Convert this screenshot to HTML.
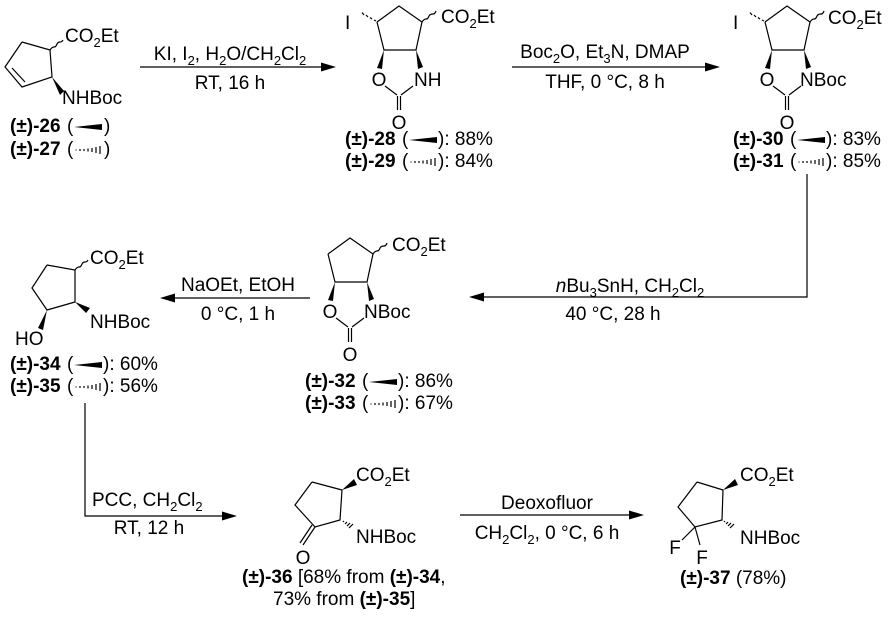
<!DOCTYPE html>
<html><head><meta charset="utf-8"><style>
html,body{margin:0;padding:0;background:#fff;}
svg{display:block;}
text{font-family:"Liberation Sans",Arial,sans-serif;font-size:19px;fill:#000;}
.b{font-weight:bold;}
.c{text-anchor:middle;}
line,polyline,path{stroke:#000;stroke-width:1.2;fill:none;}
.ar{fill:#000;stroke:none;}
</style></head><body>
<svg width="891" height="617" viewBox="0 0 891 617" xmlns="http://www.w3.org/2000/svg">
<defs>
<g id="bic">
 <polyline points="-22,16 0,0 23,16 17,44 -15,44 -22,16"/>
 <path d="M-15,44 L-22,62 L-17,63 Z" class="ar"/>
 <path d="M17,44 L19,63 L24,61 Z" class="ar"/>
 <line x1="-14" y1="80" x2="-2" y2="89"/>
 <line x1="14" y1="80" x2="2" y2="89"/>
 <line x1="-1.5" y1="90" x2="-1.5" y2="104"/>
 <line x1="1.5" y1="90" x2="1.5" y2="104"/>
 <path d="M23,16 q2,-3 4,-3 q2,0 3,-3 q1,-2 4,-2 q2,0 3,-3"/>
 <text x="-20" y="80" class="c">O</text>
 <text x="0" y="123" class="c">O</text>
</g>
<g id="hi">
 <line x1="-23" y1="15" x2="-25" y2="14"/><line x1="-27" y1="13" x2="-29" y2="11.5"/><line x1="-31" y1="11" x2="-33" y2="9"/><line x1="-35" y1="9" x2="-37" y2="6.5"/>
</g>
<g id="hl">
 <path d="M0,-5 L28,-8 L28,-2 Z" class="ar"/>
</g>
<g id="hd">
 <line x1="2" y1="-5.5" x2="2" y2="-4.5"/><line x1="6" y1="-6" x2="6" y2="-4"/><line x1="10" y1="-6" x2="10" y2="-4"/><line x1="14" y1="-6.5" x2="14" y2="-3.5"/><line x1="18" y1="-7" x2="18" y2="-3"/><line x1="22" y1="-8" x2="22" y2="-2"/><line x1="26" y1="-9" x2="26" y2="-1"/>
</g>
</defs>

<!-- 26 -->
<polyline points="22,42 50,50 52,77 22,87 5,67 22,42"/>
<line x1="12" y1="68" x2="25" y2="82"/>
<path d="M50,50 q2,-3 4,-3 q2,0 3,-3 q1,-2 3,-2 q2,0 3,-2"/>
<path d="M52,77 L60,95 L64,91 Z" class="ar"/>
<text x="65" y="42">CO<tspan font-size="13" dy="5">2</tspan><tspan dy="-5">Et</tspan></text>
<text x="62" y="104">NHBoc</text>
<text x="10" y="132" class="b">(±)-26</text><text x="67" y="132">(</text>
<use href="#hl" x="74" y="132"/><text x="104" y="132">)</text>
<text x="10" y="155" class="b">(±)-27</text><text x="67" y="155">(</text>
<use href="#hd" x="74" y="155"/><text x="104" y="155">)</text>

<!-- arrow 1 -->
<line x1="140" y1="67" x2="325" y2="67"/><path d="M336,67 L321,62.5 L321,71.5 Z" class="ar"/>
<text x="230" y="60" class="c">KI, I<tspan font-size="13" dy="5">2</tspan><tspan dy="-5">, H</tspan><tspan font-size="13" dy="5">2</tspan><tspan dy="-5">O/CH</tspan><tspan font-size="13" dy="5">2</tspan><tspan dy="-5">Cl</tspan><tspan font-size="13" dy="5">2</tspan></text>
<text x="230" y="89" class="c">RT, 16 h</text>

<!-- 28 -->
<g transform="translate(399,6)">
 <use href="#bic"/><use href="#hi"/>
 <text x="-54" y="23">I</text>
 <text x="42" y="17">CO<tspan font-size="13" dy="5">2</tspan><tspan dy="-5">Et</tspan></text>
 <text x="15" y="80">NH</text>
</g>
<text x="345" y="145" class="b">(±)-28</text><text x="402" y="145">(</text>
<use href="#hl" x="409" y="145"/><text x="438" y="145">): 88%</text>
<text x="345" y="167" class="b">(±)-29</text><text x="402" y="167">(</text>
<use href="#hd" x="409" y="167"/><text x="438" y="167">): 84%</text>

<!-- arrow 2 -->
<line x1="512" y1="67" x2="709" y2="67"/><path d="M720,67 L705,62.5 L705,71.5 Z" class="ar"/>
<text x="605" y="58" class="c">Boc<tspan font-size="13" dy="5">2</tspan><tspan dy="-5">O, Et</tspan><tspan font-size="13" dy="5">3</tspan><tspan dy="-5">N, DMAP</tspan></text>
<text x="605" y="88" class="c">THF, 0 °C, 8 h</text>

<!-- 30 -->
<g transform="translate(787,6)">
 <use href="#bic"/><use href="#hi"/>
 <text x="-54" y="23">I</text>
 <text x="41" y="18">CO<tspan font-size="13" dy="5">2</tspan><tspan dy="-5">Et</tspan></text>
 <text x="13" y="80">NBoc</text>
</g>
<text x="733" y="145" class="b">(±)-30</text><text x="790" y="145">(</text>
<use href="#hl" x="797" y="145"/><text x="826" y="145">): 83%</text>
<text x="733" y="167" class="b">(±)-31</text><text x="790" y="167">(</text>
<use href="#hd" x="797" y="167"/><text x="826" y="167">): 85%</text>

<!-- arrow 3 -->
<polyline points="807,174 807,297 482,297"/><path d="M469,297 L484,292.5 L484,301.5 Z" class="ar"/>
<text x="630" y="292" class="c"><tspan font-style="italic">n</tspan>Bu<tspan font-size="13" dy="5">3</tspan><tspan dy="-5">SnH, CH</tspan><tspan font-size="13" dy="5">2</tspan><tspan dy="-5">Cl</tspan><tspan font-size="13" dy="5">2</tspan></text>
<text x="613" y="320" class="c">40 °C, 28 h</text>

<!-- 32 -->
<g transform="translate(350,238)">
 <use href="#bic"/>
 <text x="42" y="13">CO<tspan font-size="13" dy="5">2</tspan><tspan dy="-5">Et</tspan></text>
 <text x="14" y="80">NBoc</text>
</g>
<text x="305" y="387" class="b">(±)-32</text><text x="362" y="387">(</text>
<use href="#hl" x="369" y="387"/><text x="398" y="387">): 86%</text>
<text x="305" y="409" class="b">(±)-33</text><text x="362" y="409">(</text>
<use href="#hd" x="369" y="409"/><text x="398" y="409">): 67%</text>

<!-- arrow 4 -->
<line x1="310" y1="298" x2="173" y2="298"/><path d="M160,298 L175,293.5 L175,302.5 Z" class="ar"/>
<text x="238" y="291" class="c">NaOEt, EtOH</text>
<text x="238" y="320" class="c">0 °C, 1 h</text>

<!-- 34 -->
<polyline points="47,265 75,270 75,302 47,310 32,288 47,265"/>
<path d="M75,270 q2,-3 4,-3 q2,0 3,-3 q1,-2 3,-2 q2,0 3,-2"/>
<path d="M75,302 L86,313 L90,308 Z" class="ar"/>
<path d="M47,310 L38,328 L43,330 Z" class="ar"/>
<text x="90" y="264">CO<tspan font-size="13" dy="5">2</tspan><tspan dy="-5">Et</tspan></text>
<text x="90" y="328">NHBoc</text>
<text x="15" y="345">HO</text>
<text x="10" y="370" class="b">(±)-34</text><text x="67" y="370">(</text>
<use href="#hl" x="74" y="370"/><text x="103" y="370">): 60%</text>
<text x="10" y="392" class="b">(±)-35</text><text x="67" y="392">(</text>
<use href="#hd" x="74" y="392"/><text x="103" y="392">): 56%</text>

<!-- arrow 5 -->
<polyline points="85,403 85,516 224,516"/><path d="M237,516 L222,511.5 L222,520.5 Z" class="ar"/>
<text x="92" y="506">PCC, CH<tspan font-size="13" dy="5">2</tspan><tspan dy="-5">Cl</tspan><tspan font-size="13" dy="5">2</tspan></text>
<text x="149" y="534" class="c">RT, 12 h</text>

<!-- 36 -->
<polyline points="312,482 342,490 340,520 315,527 295,505 312,482"/>
<path d="M342,490 L354,479 L357,485 Z" class="ar"/>
<line x1="343" y1="522" x2="344" y2="521"/><line x1="345" y1="524" x2="347" y2="522"/><line x1="347" y1="526" x2="350" y2="523"/><line x1="349" y1="528" x2="353" y2="524"/>
<line x1="315" y1="527" x2="303" y2="545"/><line x1="312" y1="525" x2="300" y2="543"/>
<text x="356" y="481">CO<tspan font-size="13" dy="5">2</tspan><tspan dy="-5">Et</tspan></text>
<text x="356" y="543">NHBoc</text>
<text x="303" y="564" class="c">O</text>
<text x="242" y="583"><tspan font-weight="bold">(±)-36</tspan> [68% from <tspan font-weight="bold">(±)-34</tspan>,</text>
<text x="273" y="605">73% from <tspan font-weight="bold">(±)-35</tspan>]</text>

<!-- arrow 6 -->
<line x1="460" y1="515" x2="631" y2="515"/><path d="M644,515 L629,510.5 L629,519.5 Z" class="ar"/>
<text x="547" y="509" class="c">Deoxofluor</text>
<text x="547" y="539" class="c">CH<tspan font-size="13" dy="5">2</tspan><tspan dy="-5">Cl</tspan><tspan font-size="13" dy="5">2</tspan><tspan dy="-5">, 0 °C, 6 h</tspan></text>

<!-- 37 -->
<polyline points="697,482 723,490 722,520 695,527 678,507 697,482"/>
<path d="M723,490 L735,479 L738,485 Z" class="ar"/>
<line x1="724" y1="522" x2="725" y2="521"/><line x1="726" y1="524" x2="728" y2="522"/><line x1="728" y1="526" x2="731" y2="523"/><line x1="730" y1="528" x2="734" y2="524"/>
<line x1="695" y1="527" x2="682" y2="540"/><line x1="695" y1="527" x2="700" y2="545"/>
<text x="740" y="481">CO<tspan font-size="13" dy="5">2</tspan><tspan dy="-5">Et</tspan></text>
<text x="740" y="544">NHBoc</text>
<text x="675" y="554" class="c">F</text>
<text x="702" y="564" class="c">F</text>
<text x="680" y="584"><tspan font-weight="bold">(±)-37</tspan> (78%)</text>
</svg>
</body></html>
